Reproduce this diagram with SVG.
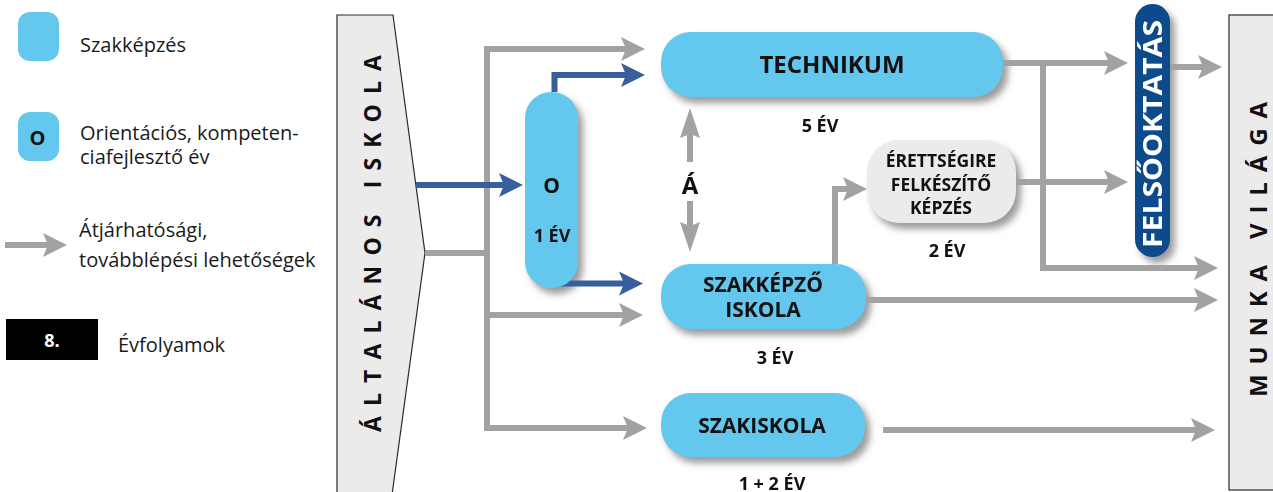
<svg xmlns="http://www.w3.org/2000/svg" width="1273" height="492" viewBox="0 0 1273 492">
<style>
.sb{fill:#64c7ed}
.gb{fill:#ebebeb}
.db{fill:#0c4a8b}
.frame{fill:#ebebeb;stroke:#2a2a2a;stroke-width:1.2}
.g{fill:none;stroke:#a1a2a1;stroke-width:6}
.b{fill:none;stroke:#385e9c;stroke-width:6}
.t{font-family:"Open Sans","Liberation Sans",sans-serif;font-weight:700;fill:#111;text-anchor:middle}
.l{font-family:"Open Sans","Liberation Sans",sans-serif;font-weight:400;fill:#1a1a1a;font-size:20px}
.rot{font-family:"Open Sans","Liberation Sans",sans-serif;font-weight:700;fill:#111}
.sh{fill:#7a7a7a;opacity:.75}
</style>
<defs>
<filter id="blur" x="-30%" y="-30%" width="160%" height="160%"><feGaussianBlur stdDeviation="3.5"/></filter>
<marker id="ag" markerUnits="userSpaceOnUse" markerWidth="26" markerHeight="24" refX="14" refY="12" orient="auto" overflow="visible"><path d="M0,0 L24,12 L0,24 L5,12 z" fill="#a1a2a1"/></marker>
<marker id="ab" markerUnits="userSpaceOnUse" markerWidth="26" markerHeight="24" refX="14" refY="12" orient="auto" overflow="visible"><path d="M0,0 L24,12 L0,24 L5,12 z" fill="#385e9c"/></marker>
<marker id="av" markerUnits="userSpaceOnUse" markerWidth="30" markerHeight="20" refX="20" refY="10" orient="auto" overflow="visible"><path d="M0,0 L30,10 L0,20 L4,10 z" fill="#a1a2a1"/></marker>
</defs>

<g id="legend">
<rect x="18" y="12" width="41" height="49" rx="12" class="sb"/>
<text x="80" y="52" class="l">Szakképzés</text>
<rect x="18" y="112" width="41" height="49" rx="12" class="sb"/>
<text x="37.5" y="145" class="t" style="font-size:20px">O</text>
<text x="80" y="140" class="l">Orientációs, kompeten-</text>
<text x="80" y="164" class="l">ciafejlesztő év</text>
<path d="M5,245 H57" class="g" marker-end="url(#ag)"/>
<text x="79" y="237" class="l">Átjárhatósági,</text>
<text x="79" y="267" class="l">továbblépési lehetőségek</text>
<rect x="6" y="319" width="92" height="41" fill="#000"/>
<text x="52" y="347" class="t" style="font-size:18px;fill:#fff">8.</text>
<text x="118" y="352" class="l">Évfolyamok</text>
</g>

<g id="altalanos-iskola">
<polygon points="337,15 393,15 425,253 392,495 337,495" class="frame"/>
<text transform="translate(381,432) rotate(-90)" x="0" y="0" class="rot" style="font-size:23px" textLength="377" lengthAdjust="spacing">ÁLTALÁNOS ISKOLA</text>
</g>

<g id="munka-vilaga">
<rect x="1229" y="15" width="60" height="475" class="frame"/>
<text transform="translate(1267,397) rotate(-90)" x="0" y="0" class="rot" style="font-size:24px" textLength="295" lengthAdjust="spacing">MUNKA VILÁGA</text>
</g>

<g id="shadows" filter="url(#blur)">
<rect x="666" y="38" width="342" height="65" rx="30" class="sh"/>
<rect x="530" y="98" width="53" height="196" rx="26" class="sh"/>
<rect x="872" y="146" width="149" height="83" rx="32" class="sh"/>
<rect x="666" y="270" width="205" height="65" rx="30" class="sh"/>
<rect x="666" y="399" width="204" height="64" rx="30" class="sh"/>
<rect x="1140" y="10" width="35" height="253" rx="17.5" class="sh"/>
</g>

<g id="connectors">
<path d="M425,253 H487" class="g"/>
<path d="M487,431 V49 H635" class="g" marker-end="url(#ag)" stroke-linejoin="miter"/>
<path d="M487,315 H633" class="g" marker-end="url(#ag)"/>
<path d="M484,428 H637" class="g" marker-end="url(#ag)"/>
<path d="M690,162 V118" class="g" marker-end="url(#av)"/>
<path d="M690,201 V242" class="g" marker-end="url(#av)"/>
<path d="M835,264 V189 H857" class="g" marker-end="url(#ag)"/>
<path d="M1003,63 H1118" class="g" marker-end="url(#ag)"/>
<path d="M1043,63 V268 H1208" class="g" marker-end="url(#ag)"/>
<path d="M1016,182 H1118" class="g" marker-end="url(#ag)"/>
<path d="M1170,67 H1212" class="g" marker-end="url(#ag)"/>
<path d="M866,300 H1208" class="g" marker-end="url(#ag)"/>
<path d="M883,430 H1205" class="g" marker-end="url(#ag)"/>
<path d="M416,185 H513" class="b" marker-end="url(#ab)"/>
<path d="M554.5,92 V75 H635" class="b" marker-end="url(#ab)"/>
<path d="M556,283.5 H633" class="b" marker-end="url(#ab)"/>
<text x="690" y="194" class="t" style="font-size:24px">Á</text>
</g>

<g id="technikum">
<rect x="661" y="32" width="342" height="65" rx="30" class="sb"/>
<text x="832" y="73" class="t" style="font-size:24px">TECHNIKUM</text>
<text x="820" y="132" class="t" style="font-size:18px">5 ÉV</text>
</g>

<g id="orientacios">
<rect x="525" y="92" width="53" height="196" rx="26" class="sb"/>
<text x="551.5" y="193" class="t" style="font-size:21px">O</text>
<text x="552" y="242" class="t" style="font-size:18px">1 ÉV</text>
</g>

<g id="erettsegire">
<rect x="867" y="140" width="149" height="83" rx="32" class="gb"/>
<text x="941" y="167" class="t" style="font-size:17.5px">ÉRETTSÉGIRE</text>
<text x="941" y="191" class="t" style="font-size:17.5px">FELKÉSZÍTŐ</text>
<text x="941" y="214" class="t" style="font-size:17.5px">KÉPZÉS</text>
<text x="947" y="257" class="t" style="font-size:18px">2 ÉV</text>
</g>

<g id="szakkepzo">
<rect x="661" y="264" width="205" height="65" rx="30" class="sb"/>
<text x="763" y="292" class="t" style="font-size:21px">SZAKKÉPZŐ</text>
<text x="763" y="317" class="t" style="font-size:21px">ISKOLA</text>
<text x="775" y="364" class="t" style="font-size:18px">3 ÉV</text>
</g>

<g id="szakiskola">
<rect x="661" y="393" width="204" height="64" rx="30" class="sb"/>
<text x="762" y="433" class="t" style="font-size:21px">SZAKISKOLA</text>
<text x="772" y="490" class="t" style="font-size:18px">1 + 2 ÉV</text>
</g>

<g id="felsooktatas">
<rect x="1135" y="4" width="35" height="253" rx="17.5" class="db"/>
<text transform="translate(1162,248) rotate(-90)" x="0" y="0" class="rot" style="font-size:27px;fill:#fff" textLength="228" lengthAdjust="spacingAndGlyphs">FELSŐOKTATÁS</text>
</g>
</svg>
